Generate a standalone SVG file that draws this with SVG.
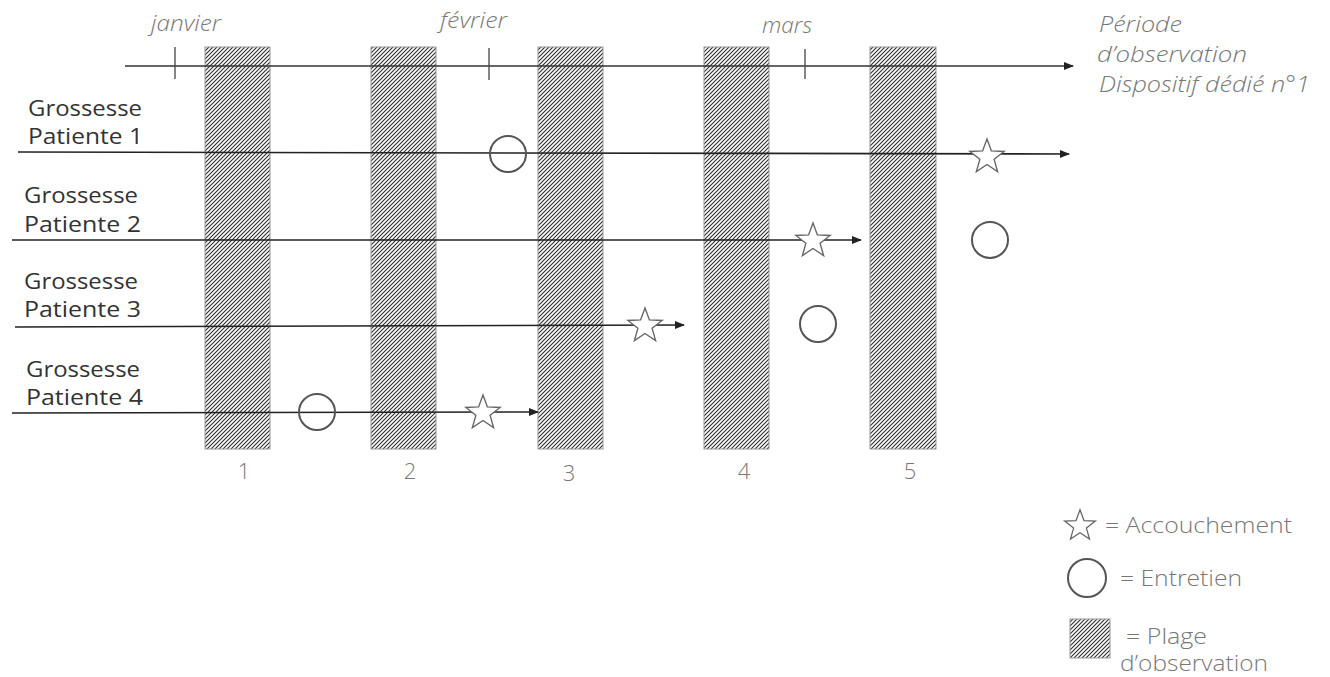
<svg xmlns="http://www.w3.org/2000/svg" xmlns:xlink="http://www.w3.org/1999/xlink" width="1330" height="677" viewBox="0 0 1330 677">
<style>
.lbl{font-family:"Open Sans",Lato,"Liberation Sans",sans-serif;font-size:22px;fill:#333}
.gray{font-family:"Open Sans",Lato,"Liberation Sans",sans-serif;font-size:22px;font-weight:300;fill:#777}
.it{font-style:italic}
.bar{fill:url(#hatch);stroke:#999;stroke-width:1}
.ln{stroke:#222;stroke-width:1.6;fill:none}
.axis{stroke:#333;stroke-width:1.3;fill:none}
.tick{stroke:#444;stroke-width:1.3}
.circ{fill:none;stroke:#555;stroke-width:2}
.star{fill:#fff;stroke:#666;stroke-width:1.4;stroke-linejoin:miter}
</style>
<defs>
<pattern id="hatch" patternUnits="userSpaceOnUse" width="4" height="4">
<rect width="4" height="4" fill="#fff"/>
<path d="M-1,1 l2,-2 M0,4 l4,-4 M3,5 l2,-2" stroke="#333" stroke-width="1.2"/>
</pattern>
<marker id="arr" markerWidth="10" markerHeight="8" refX="9" refY="4" orient="auto" markerUnits="userSpaceOnUse">
<path d="M0,0 L10,4 L0,8 z" fill="#222"/>
</marker>
<polygon id="star" points="0,-18 4.41,-6.07 17.12,-5.56 7.13,2.32 10.58,14.56 0,7.5 -10.58,14.56 -7.13,2.32 -17.12,-5.56 -4.41,-6.07"/>
</defs>
<rect width="1330" height="677" fill="#fff"/>

<g id="bars">
<rect class="bar" x="205" y="47" width="65" height="402"/>
<rect class="bar" x="371" y="47" width="65" height="402"/>
<rect class="bar" x="538" y="47" width="65" height="402"/>
<rect class="bar" x="704" y="47" width="65" height="402"/>
<rect class="bar" x="870" y="47" width="66" height="402"/>
</g>
<g id="bar-numbers" class="gray">
<text x="244" y="479" text-anchor="middle">1</text>
<text x="410" y="479" text-anchor="middle">2</text>
<text x="569" y="481" text-anchor="middle">3</text>
<text x="744" y="479" text-anchor="middle">4</text>
<text x="910" y="479" text-anchor="middle">5</text>
</g>

<g id="connectors">
<line class="axis" x1="125" y1="66" x2="1073" y2="66" marker-end="url(#arr)"/>
<line class="tick" x1="175" y1="47" x2="175" y2="79"/>
<line class="tick" x1="489" y1="48" x2="489" y2="80"/>
<line class="tick" x1="805" y1="49" x2="805" y2="79"/>
<line class="ln" x1="18" y1="152" x2="1069" y2="154" marker-end="url(#arr)"/>
<line class="ln" x1="12" y1="240" x2="861" y2="240" marker-end="url(#arr)"/>
<line class="ln" x1="15" y1="327" x2="684" y2="325" marker-end="url(#arr)"/>
<line class="ln" x1="12" y1="413" x2="538" y2="412" marker-end="url(#arr)"/>
</g>

<g id="axis-labels" class="gray it">
<text x="151" y="31" textLength="70" lengthAdjust="spacingAndGlyphs">janvier</text>
<text x="440" y="28" textLength="67" lengthAdjust="spacingAndGlyphs">février</text>
<text x="762" y="33" textLength="50" lengthAdjust="spacingAndGlyphs">mars</text>
<text x="1099" y="32" textLength="83" lengthAdjust="spacingAndGlyphs">Période</text>
<text x="1097" y="62" textLength="150" lengthAdjust="spacingAndGlyphs">d’observation</text>
<text x="1099" y="92" textLength="211" lengthAdjust="spacingAndGlyphs">Dispositif dédié n°1</text>
</g>

<g id="patient1">
<text class="lbl" x="28" y="116" textLength="114" lengthAdjust="spacingAndGlyphs">Grossesse</text>
<text class="lbl" x="28" y="144" textLength="115" lengthAdjust="spacingAndGlyphs">Patiente 1</text>
<circle class="circ" cx="508" cy="154" r="18"/>
<use href="#star" xlink:href="#star" class="star" transform="translate(987,157)"/>
</g>
<g id="patient2">
<text class="lbl" x="24" y="203" textLength="114" lengthAdjust="spacingAndGlyphs">Grossesse</text>
<text class="lbl" x="24" y="232" textLength="117" lengthAdjust="spacingAndGlyphs">Patiente 2</text>
<use href="#star" xlink:href="#star" class="star" transform="translate(813,241)"/>
<circle class="circ" cx="990" cy="240" r="18"/>
</g>
<g id="patient3">
<text class="lbl" x="24" y="289" textLength="114" lengthAdjust="spacingAndGlyphs">Grossesse</text>
<text class="lbl" x="24" y="317" textLength="117" lengthAdjust="spacingAndGlyphs">Patiente 3</text>
<use href="#star" xlink:href="#star" class="star" transform="translate(645,326)"/>
<circle class="circ" cx="818" cy="324" r="18"/>
</g>
<g id="patient4">
<text class="lbl" x="26" y="377" textLength="114" lengthAdjust="spacingAndGlyphs">Grossesse</text>
<text class="lbl" x="26" y="405" textLength="117" lengthAdjust="spacingAndGlyphs">Patiente 4</text>
<circle class="circ" cx="317" cy="412" r="18"/>
<use href="#star" xlink:href="#star" class="star" transform="translate(483,413)"/>
</g>

<g id="legend">
<use href="#star" xlink:href="#star" class="star" transform="translate(1080,526) scale(0.9)"/>
<text class="gray" x="1105" y="533" textLength="187" lengthAdjust="spacingAndGlyphs">= Accouchement</text>
<circle class="circ" cx="1087" cy="578" r="19"/>
<text class="gray" x="1120" y="586" textLength="122" lengthAdjust="spacingAndGlyphs">= Entretien</text>
<rect class="bar" x="1070" y="619" width="40" height="39"/>
<text class="gray" x="1126" y="644" font-size="20" textLength="81" lengthAdjust="spacingAndGlyphs">= Plage</text>
<text class="gray" x="1120" y="671" font-size="20" textLength="148" lengthAdjust="spacingAndGlyphs">d’observation</text>
</g>
</svg>
